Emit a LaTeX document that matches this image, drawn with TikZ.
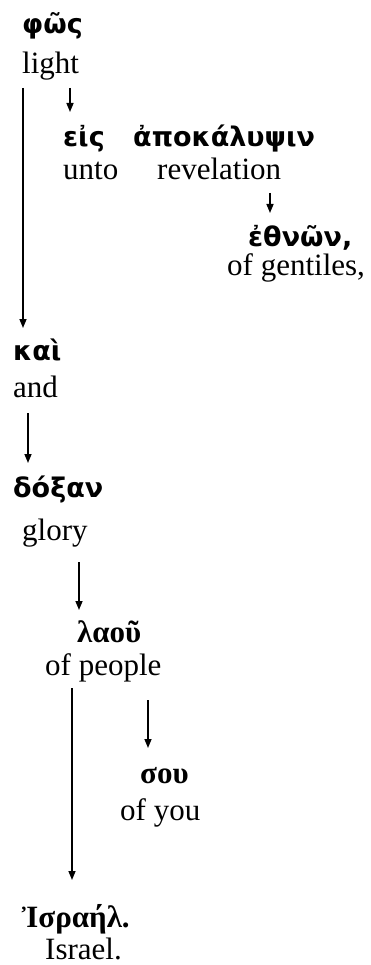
\documentclass[tikz,border=0pt]{standalone}
\usepackage{fontspec}
\setmainfont{Liberation Serif}
\newfontfamily\grsans{DejaVu Sans}
\usetikzlibrary{arrows.meta,calc}
\tikzset{
  gk/.style={inner sep=0pt, anchor=base west, font=\grsans\bfseries\fontsize{27}{32}\selectfont},
  gkserif/.style={inner sep=0pt, anchor=base west, font=\bfseries\fontsize{31}{36}\selectfont},
  en/.style={inner sep=0pt, anchor=base west, font=\fontsize{31}{36}\selectfont},
  arr/.style={line width=1.5pt, -{Triangle[length=9pt,width=7pt]}}
}
\begin{document}
\begin{tikzpicture}[x=1pt,y=-1pt]
\useasboundingbox (0,0) rectangle (370,965);
\node[gk] (fos) at (22,34) {φῶς};
\node[en] (light) at (22,74) {light};
\node[gk] (eis) at (63,147) {εἰς};
\node[gk] (apok) at (133,147) {ἀποκάλυψιν};
\node[en] (unto) at (63,180) {unto};
\node[en] (revel) at (157,180) {revelation};
\node[gk] (ethnon) at (248,247) {ἐθνῶν,};
\node[en] (gent) at (227,276) {of gentiles,};
\node[gk] (kai) at (13,360) {καὶ};
\node[en] (and) at (13,397) {and};
\node[gk] (doxan) at (13,497) {δόξαν};
\node[en] (glory) at (22,540) {glory};
\node[gkserif] (laou) at (77,642) {λαοῦ};
\node[en] (people) at (45,675) {of people};
\node[gkserif] (sou) at (140,783) {σου};
\node[en] (you) at (120,820) {of you};
\node[gkserif] (isr) at (22,927) {Ἰσραήλ.};
\node[en] (israel) at (45,959) {Israel.};
% connectors
\draw[arr] ($(light.base west)+(1,14)$) -- ($(light.base west |- kai.base)+(1,-32)$);
\draw[arr] ($(eis.base west |- light.base)+(7,14)$) -- ($(eis.base west)+(7,-35)$);
\draw[arr] ($(ethnon.base west |- revel.base)+(22,13)$) -- ($(ethnon.base west)+(22,-34)$);
\draw[arr] ($(and.base west)+(15,16)$) -- ($(and.base west |- doxan.base)+(15,-34)$);
\draw[arr] ($(laou.base west |- glory.base)+(2,22)$) -- ($(laou.base west)+(2,-32)$);
\draw[arr] ($(people.base west)+(27,13)$) -- ($(people.base west |- isr.base)+(27,-47)$);
\draw[arr] ($(sou.base west |- people.base)+(8,25)$) -- ($(sou.base west)+(8,-35)$);
\end{tikzpicture}
\end{document}
